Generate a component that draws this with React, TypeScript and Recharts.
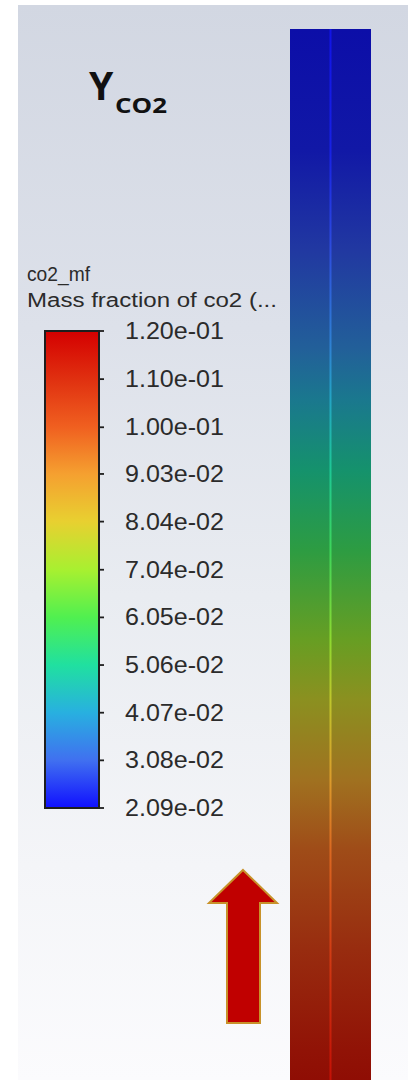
import React from 'react';
import {
  ComposedChart,
  BarChart,
  Bar,
  XAxis,
  YAxis,
  ReferenceArea,
  ReferenceLine,
} from 'recharts';

// ---- Colour bar (legend) ----
const colorbarTicks = [0.0209, 0.0308, 0.0407, 0.0506, 0.0605, 0.0704, 0.0804, 0.0903, 0.1, 0.11, 0.12];
const colormapValues = [0.0209, 0.0308, 0.0407, 0.0506, 0.0605, 0.0704, 0.0804, 0.0903, 0.1, 0.11, 0.12];
const colormapColors = ['#1010ff', '#4070f0', '#28b0e0', '#20e0a0', '#50f050', '#a8f030', '#e8d030', '#f5a030', '#f06020', '#e03010', '#d40000'];

// ---- CO2 mass fraction along the column (0 = inlet at bottom, 1 = top) ----
const columnPositions = [0.0, 0.029, 0.124, 0.219, 0.285, 0.362, 0.419, 0.504, 0.58, 0.647, 0.695, 0.79, 0.885, 1.0];
const columnValues = [0.116, 0.114, 0.106, 0.097, 0.088, 0.077, 0.069, 0.058, 0.05, 0.042, 0.036, 0.028, 0.023, 0.0215];

const legendTitle = 'co2_mf';
const legendSubtitle = 'Mass fraction of co2 (...';

const hexToRgb = (h: string) => [parseInt(h.slice(1, 3), 16), parseInt(h.slice(3, 5), 16), parseInt(h.slice(5, 7), 16)];
const rgbToHex = (c: number[]) =>
  '#' + c.map((v) => Math.max(0, Math.min(255, Math.round(v))).toString(16).padStart(2, '0')).join('');

function colormap(v: number): number[] {
  if (v <= colormapValues[0]) return hexToRgb(colormapColors[0]);
  for (let i = 1; i < colormapValues.length; i++) {
    if (v <= colormapValues[i]) {
      const t = (v - colormapValues[i - 1]) / (colormapValues[i] - colormapValues[i - 1]);
      const a = hexToRgb(colormapColors[i - 1]);
      const b = hexToRgb(colormapColors[i]);
      return a.map((x, k) => x + (b[k] - x) * t);
    }
  }
  return hexToRgb(colormapColors[colormapColors.length - 1]);
}

const shade = (v: number, k: number) => rgbToHex(colormap(v).map((c) => c * k));

const fmtExp = (v: number) => {
  const [m, e] = v.toExponential(2).split('e');
  const sign = e[0] === '-' ? '-' : '+';
  const d = e.replace(/[+-]/, '').padStart(2, '0');
  return `${m}e${sign}${d}`;
};

const CbTick = (props: any) => {
  const { x, y, payload } = props;
  return (
    <text
      x={x}
      y={y + 8}
      textAnchor="start"
      fontFamily="'Liberation Sans', Arial, sans-serif"
      fontSize={23}
      fill="#2b2b2b"
      textLength={99}
      lengthAdjust="spacingAndGlyphs"
    >
      {fmtExp(payload.value)}
    </text>
  );
};

const W = 408;
const H = 1080;

// indices ordered from top of column to bottom (gradient offsets must increase)
const topDownIdx = columnPositions.map((_, i) => columnPositions.length - 1 - i);

export default function App() {
  const columnData = [{ name: 'column', pos: 1 }];
  return (
    <div style={{ position: 'absolute', left: 0, top: 0, width: W, height: H, background: '#ffffff', overflow: 'hidden' }}>
      <div
        style={{
          position: 'absolute',
          left: 18,
          top: 5,
          right: 0,
          bottom: 0,
          background: 'linear-gradient(to bottom, #d2d7e2 0%, #dde1ea 30%, #e9ecf1 55%, #f4f5f8 80%, #fbfbfd 100%)',
        }}
      />
      {/* Column contour */}
      <div style={{ position: 'absolute', left: 0, top: 0 }}>
        <BarChart width={W} height={H} data={columnData} margin={{ top: 29, right: 37, bottom: 0, left: 290 }} barCategoryGap={0}>
          <defs>
            <linearGradient id="colGrad" x1="0" y1="0" x2="0" y2="1">
              {topDownIdx.map((idx) => (
                <stop key={idx} offset={1 - columnPositions[idx]} stopColor={shade(columnValues[idx], 0.66)} />
              ))}
            </linearGradient>
            <linearGradient id="colShade" x1="0" y1="0" x2="1" y2="0">
              <stop offset={0} stopColor="#000" stopOpacity={0.1} />
              <stop offset={0.3} stopColor="#000" stopOpacity={0.03} />
              <stop offset={0.5} stopColor="#000" stopOpacity={0} />
              <stop offset={0.85} stopColor="#000" stopOpacity={0.02} />
              <stop offset={1} stopColor="#000" stopOpacity={0.08} />
            </linearGradient>
            <linearGradient id="lineGrad" gradientUnits="userSpaceOnUse" x1="0" y1="29" x2="0" y2="1080">
              {topDownIdx.map((idx) => (
                <stop key={idx} offset={1 - columnPositions[idx]} stopColor={shade(columnValues[idx], 0.95)} />
              ))}
            </linearGradient>
          </defs>
          <XAxis dataKey="name" type="category" hide />
          <YAxis type="number" domain={[0, 1]} hide />
          <Bar dataKey="pos" fill="url(#colGrad)" isAnimationActive={false} />
          <ReferenceArea y1={0} y2={1} fill="url(#colShade)" fillOpacity={1} stroke="none" />
          <ReferenceLine x="column" stroke="url(#lineGrad)" strokeWidth={2} strokeOpacity={0.85} />
        </BarChart>
      </div>
      {/* Colour bar */}
      <div style={{ position: 'absolute', left: 0, top: 0 }}>
        <ComposedChart
          width={W}
          height={H}
          data={[{ x: 0 }, { x: 1 }]}
          margin={{ top: 331, right: 159, bottom: 272, left: 45 }}
        >
          <defs>
            <linearGradient id="cbGrad" x1="0" y1="1" x2="0" y2="0">
              {colormapValues.map((v, i) => (
                <stop
                  key={i}
                  offset={(v - colormapValues[0]) / (colormapValues[colormapValues.length - 1] - colormapValues[0])}
                  stopColor={colormapColors[i]}
                />
              ))}
            </linearGradient>
          </defs>
          <XAxis dataKey="x" type="number" domain={[0, 1]} hide />
          <YAxis
            orientation="right"
            type="number"
            width={150}
            domain={[colorbarTicks[0], colorbarTicks[colorbarTicks.length - 1]]}
            ticks={colorbarTicks}
            interval={0}
            allowDataOverflow
            axisLine={false}
            tickLine={{ stroke: '#1e1e1e', strokeWidth: 1.8 }}
            tickSize={5}
            tickMargin={21}
            tick={<CbTick />}
          />
          <ReferenceArea
            x1={0}
            x2={1}
            y1={colorbarTicks[0]}
            y2={colorbarTicks[colorbarTicks.length - 1]}
            fill="url(#cbGrad)"
            fillOpacity={1}
            stroke="#1e1e1e"
            strokeWidth={2}
          />
        </ComposedChart>
      </div>
      {/* Annotations */}
      <svg width={W} height={H} style={{ position: 'absolute', left: 0, top: 0, pointerEvents: 'none' }}>
        <text x={89} y={100} fontFamily="'Open Sans', sans-serif" fontWeight={700} fontSize={39} fill="#111">
          Y
        </text>
        <text
          x={115}
          y={113}
          fontFamily="'Open Sans', sans-serif"
          fontWeight={700}
          fontSize={22}
          fill="#111"
          textLength={52}
          lengthAdjust="spacingAndGlyphs"
        >
          CO2
        </text>
        <text x={27} y={281} fontFamily="'Liberation Sans', Arial, sans-serif" fontSize={21} fill="#2b2b2b" textLength={63} lengthAdjust="spacingAndGlyphs">
          {legendTitle}
        </text>
        <text x={27} y={307} fontFamily="'Liberation Sans', Arial, sans-serif" fontSize={20} fill="#2b2b2b" textLength={250} lengthAdjust="spacingAndGlyphs">
          {legendSubtitle}
        </text>
        <polygon
          points="243,870 277,903 260,903 260,1023 227,1023 227,903 209,903"
          fill="#c00000"
          stroke="#c8922a"
          strokeWidth={2}
          strokeLinejoin="miter"
        />
      </svg>
    </div>
  );
}
